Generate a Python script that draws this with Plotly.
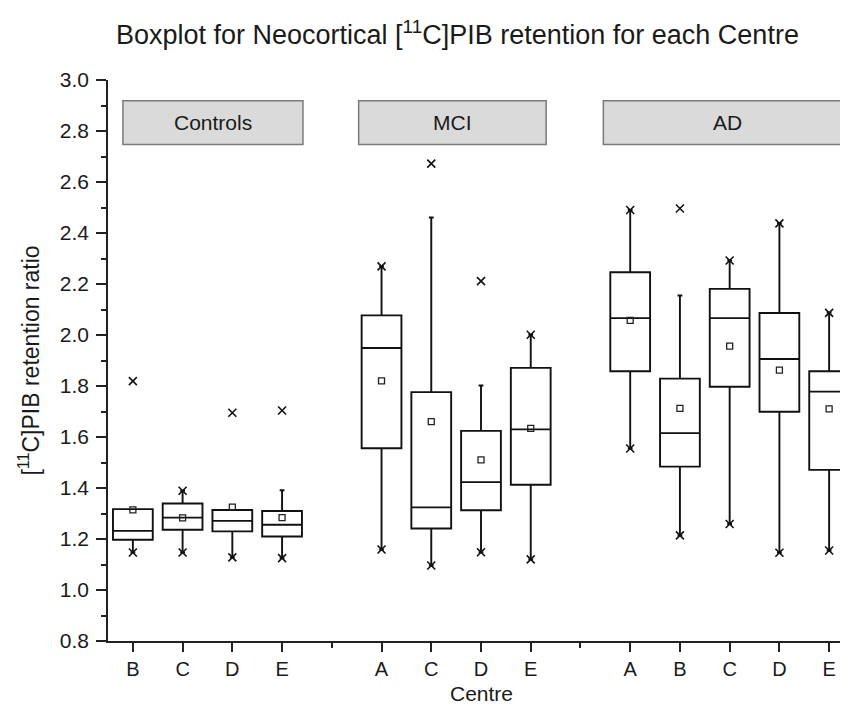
import plotly.graph_objects as go

# ---------------- data ----------------
groups = ["Controls", "MCI", "AD"]
group_of_box = [0, 0, 0, 0, 1, 1, 1, 1, 2, 2, 2, 2, 2]
centres = ["B", "C", "D", "E", "A", "C", "D", "E", "A", "B", "C", "D", "E"]

q1_vals = [1.197, 1.236, 1.230, 1.210, 1.556, 1.241, 1.313, 1.413, 1.858, 1.484, 1.797, 1.699, 1.471]
median_vals = [1.232, 1.284, 1.271, 1.256, 1.949, 1.324, 1.423, 1.630, 2.066, 1.615, 2.066, 1.906, 1.778]
q3_vals = [1.317, 1.339, 1.314, 1.310, 2.077, 1.776, 1.624, 1.871, 2.246, 1.829, 2.181, 2.086, 1.858]
mean_vals = [1.314, 1.283, 1.325, 1.284, 1.820, 1.660, 1.510, 1.634, 2.057, 1.712, 1.956, 1.862, 1.710]
lower_whisker = [1.147, 1.147, 1.128, 1.125, 1.159, 1.096, 1.148, 1.120, 1.555, 1.214, 1.259, 1.146, 1.155]
upper_whisker = [1.317, 1.389, 1.314, 1.391, 2.269, 2.461, 1.802, 2.001, 2.490, 2.155, 2.292, 2.438, 2.087]
min_vals = [1.147, 1.147, 1.128, 1.125, 1.159, 1.096, 1.148, 1.120, 1.555, 1.214, 1.259, 1.146, 1.155]
max_vals = [1.819, 1.389, 1.695, 1.704, 2.269, 2.672, 2.211, 2.001, 2.490, 2.496, 2.292, 2.438, 2.087]

y_ticks = [0.8, 1.0, 1.2, 1.4, 1.6, 1.8, 2.0, 2.2, 2.4, 2.6, 2.8, 3.0]

# box slot positions: one empty slot between groups
positions = [i + 1 + g for i, g in enumerate(group_of_box)]
gap_positions = [5, 10]

# strip (panel header) extents in axis units (layout)
strip_x = [(0.80, 4.42), (5.54, 9.31), (10.46, 15.47)]
strip_y = (2.747, 2.919)

FONT = "Liberation Sans, Arial, sans-serif"
TXT = "#1a1a1a"

W, H = 848, 706
M_T, M_B = 72, 73
plot_h = H - M_T - M_B
centre_bottom_px = 698  # bottom of the x-axis title box, in page pixels

fig = go.Figure()

fig.add_trace(go.Box(
    x=positions,
    q1=q1_vals, median=median_vals, q3=q3_vals,
    lowerfence=lower_whisker, upperfence=upper_whisker,
    width=0.8, whiskerwidth=0.12,
    fillcolor="white",
    line=dict(color="#111111", width=1.9),
    boxpoints=False, showlegend=False, hoverinfo="skip",
))

fig.add_trace(go.Scatter(
    x=positions, y=mean_vals, mode="markers",
    marker=dict(symbol="square-open", size=6, color="#222222",
                line=dict(width=1.3, color="#222222")),
    showlegend=False, hoverinfo="skip",
))

fig.add_trace(go.Scatter(
    x=positions + positions, y=min_vals + max_vals, mode="markers",
    marker=dict(symbol="x-thin", size=8, color="#111111",
                line=dict(width=1.6, color="#111111")),
    showlegend=False, hoverinfo="skip",
))

for (x0, x1), name in zip(strip_x, groups):
    fig.add_shape(type="rect", xref="x", yref="y",
                  x0=x0, x1=x1, y0=strip_y[0], y1=strip_y[1],
                  fillcolor="#dadada", line=dict(color="#7a7a7a", width=1.5),
                  layer="above")
    fig.add_annotation(x=(x0 + x1) / 2, y=(strip_y[0] + strip_y[1]) / 2,
                       xref="x", yref="y", text=name, showarrow=False,
                       font=dict(family=FONT, size=21, color=TXT))

# x-axis title placed as an annotation so it sits just above the page edge
fig.add_annotation(x=0.5, y=-(centre_bottom_px - (H - M_B)) / plot_h,
                   xref="paper", yref="paper",
                   xanchor="center", yanchor="bottom", text="Centre",
                   showarrow=False, borderpad=0,
                   font=dict(family=FONT, size=21, color=TXT))

fig.update_layout(
    width=W, height=H,
    margin=dict(l=100, r=2, t=M_T, b=M_B),
    paper_bgcolor="white", plot_bgcolor="white",
    font=dict(family=FONT, color=TXT),
    title=dict(text="Boxplot for Neocortical [<sup>11</sup>C]PIB retention for each Centre",
               x=0.53, xref="container", xanchor="center",
               y=0.962, yref="container", yanchor="middle",
               font=dict(family=FONT, size=27, color=TXT)),
    xaxis=dict(
        range=[0.5, 15.5],
        tickmode="array", tickvals=positions, ticktext=centres,
        ticks="outside", ticklen=9, tickwidth=1.5, tickcolor="#222222",
        minor=dict(tickmode="array", tickvals=gap_positions, ticks="outside",
                   ticklen=5, tickwidth=1.5, tickcolor="#222222"),
        showline=True, linecolor="#222222", linewidth=1.5,
        showgrid=False, zeroline=False,
        tickfont=dict(family=FONT, size=20, color=TXT),
    ),
    yaxis=dict(
        range=[0.8, 3.0],
        tickmode="array", tickvals=y_ticks, ticktext=[f"{v:.1f}" for v in y_ticks],
        ticks="outside", ticklen=10, tickwidth=1.5, tickcolor="#222222",
        ticklabelstandoff=3,
        minor=dict(dtick=0.1, tick0=0.8, ticks="outside", ticklen=5,
                   tickwidth=1.5, tickcolor="#222222"),
        showline=True, linecolor="#222222", linewidth=1.5,
        showgrid=False, zeroline=False,
        tickfont=dict(family=FONT, size=21, color=TXT),
        title=dict(text="[<sup>11</sup>C]PIB retention ratio",
                   font=dict(family=FONT, size=23, color=TXT), standoff=14),
    ),
)

fig.write_html("out.html")
